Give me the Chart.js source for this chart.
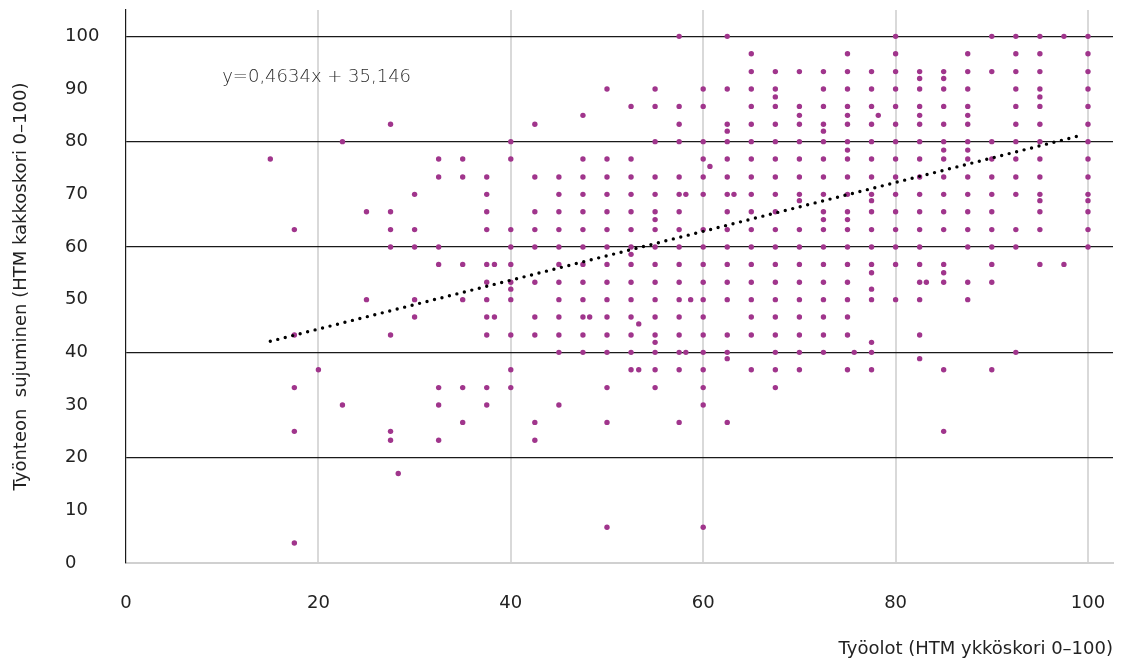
<!DOCTYPE html>
<html lang="fi">

<head>
    <meta charset="UTF-8">
    <title>Työolot ja työnteon sujuminen</title>
    <script src="https://cdn.jsdelivr.net/npm/chart.js@4"></script>
    <style>
        body {
            margin: 0;
            background: #fff;
        }

        .chart-box {
            width: 1128px;
            height: 665px;
        }
    </style>
</head>

<body>
    <div class="chart-box">
        <canvas id="scatterChart"></canvas>
    </div>

    <script>
        // x columns (scores come in steps of 2.5) and the y values found in each column
        const xCols = [15, 17.5, 20, 22.5, 25, 27.5, 30, 32.5, 35, 37.5, 40, 42.5, 45, 47.5, 50, 52.5, 55, 57.5,
            60, 62.5, 65, 67.5, 70, 72.5, 75, 77.5, 80, 82.5, 85, 87.5, 90, 92.5, 95, 97.5, 100];
        const yCols = [
            [76.7],
            [63.3, 43.3, 33.3, 25, 3.8],
            [36.7],
            [80, 30],
            [66.7, 50],
            [83.3, 66.7, 63.3, 60, 43.3, 25, 23.3],
            [70, 63.3, 60, 50, 46.7],
            [76.7, 73.3, 60, 56.7, 33.3, 30, 23.3],
            [76.7, 73.3, 56.7, 50, 33.3, 26.7],
            [73.3, 70, 66.7, 63.3, 56.7, 53.3, 50, 46.7, 43.3, 33.3, 30],
            [80, 76.7, 63.3, 60, 56.7, 53.3, 52, 50, 43.3, 36.7, 33.3],
            [83.3, 73.3, 66.7, 63.3, 60, 53.3, 46.7, 43.3, 26.7, 23.3],
            [73.3, 70, 66.7, 63.3, 60, 56.7, 53.3, 50, 46.7, 43.3, 40, 30],
            [85, 76.7, 73.3, 70, 66.7, 63.3, 60, 56.7, 53.3, 50, 46.7, 43.3, 40],
            [90, 76.7, 73.3, 70, 66.7, 63.3, 60, 56.7, 53.3, 50, 46.7, 43.3, 40, 33.3, 26.7, 6.8],
            [86.7, 76.7, 73.3, 70, 66.7, 63.3, 60, 58.6, 56.7, 53.3, 50, 46.7, 43.3, 40, 36.7],
            [90, 86.7, 80, 73.3, 70, 66.7, 65.2, 63.3, 60, 56.7, 53.3, 50, 46.7, 43.3, 41.9, 40, 36.7, 33.3],
            [100, 86.7, 83.3, 80, 73.3, 70, 66.7, 63.3, 60, 56.7, 53.3, 50, 46.7, 43.3, 40, 36.7, 26.7],
            [90, 86.7, 80, 76.7, 73.3, 70, 63.3, 60, 56.7, 53.3, 50, 46.7, 43.3, 40, 36.7, 33.3, 30, 6.8],
            [100, 90, 83.3, 82, 80, 76.7, 73.3, 70, 66.7, 63.3, 60, 56.7, 53.3, 50, 43.3, 40, 38.8, 26.7],
            [96.7, 93.3, 90, 86.7, 83.3, 80, 76.7, 73.3, 70, 66.7, 63.3, 60, 56.7, 53.3, 50, 46.7, 43.3, 36.7],
            [93.3, 90, 88.5, 86.7, 83.3, 80, 76.7, 73.3, 70, 66.7, 63.3, 60, 56.7, 53.3, 50, 46.7, 43.3, 40, 36.7, 33.3],
            [93.3, 86.7, 85, 83.3, 80, 76.7, 73.3, 70, 68.8, 63.3, 60, 56.7, 53.3, 50, 46.7, 43.3, 40, 36.7],
            [93.3, 90, 86.7, 83.3, 82, 80, 76.7, 73.3, 70, 66.7, 65.2, 63.3, 60, 56.7, 53.3, 50, 46.7, 43.3, 40],
            [96.7, 93.3, 90, 86.7, 85, 83.3, 80, 78.4, 76.7, 73.3, 70, 66.7, 65.2, 63.3, 60, 56.7, 53.3, 50, 46.7, 43.3, 36.7],
            [93.3, 90, 86.7, 83.3, 80, 76.7, 73.3, 70, 68.8, 66.7, 63.3, 60, 56.7, 55.1, 52, 50, 41.9, 40, 36.7],
            [100, 96.7, 93.3, 90, 86.7, 83.3, 80, 76.7, 73.3, 70, 66.7, 63.3, 60, 56.7, 50],
            [93.3, 92, 90, 86.7, 85, 83.3, 80, 76.7, 73.3, 70, 66.7, 63.3, 60, 56.7, 53.3, 50, 43.3, 38.8],
            [93.3, 92, 90, 86.7, 83.3, 80, 78.4, 76.7, 73.3, 70, 66.7, 63.3, 56.7, 55.1, 53.3, 36.7, 25],
            [96.7, 93.3, 90, 86.7, 85, 83.3, 80, 78.4, 76.7, 73.3, 70, 66.7, 63.3, 60, 53.3, 50],
            [100, 93.3, 80, 76.7, 73.3, 70, 66.7, 63.3, 60, 56.7, 53.3, 36.7],
            [100, 96.7, 93.3, 90, 86.7, 83.3, 80, 76.7, 73.3, 70, 63.3, 60, 40],
            [100, 96.7, 93.3, 90, 88.5, 86.7, 83.3, 80, 76.7, 73.3, 70, 68.8, 66.7, 63.3, 56.7],
            [100, 56.7],
            [100, 96.7, 93.3, 90, 86.7, 83.3, 80, 76.7, 73.3, 70, 68.8, 66.7, 63.3, 60]
        ];

        // points that sit between the columns
        const extraX = [28.3, 38.3, 38.3, 48.2, 53.3, 53.3, 58.2, 58.2, 58.7, 60.7, 63.2, 75.7, 78.2, 83.2];
        const extraY = [17, 56.7, 46.7, 46.7, 45.4, 36.7, 70, 40, 50, 75.3, 70, 40, 85, 53.3];

        // linear trend, y=0,4634x + 35,146
        const trendX = [15, 99.5];
        const trendY = [42.1, 81.3];
        const trendLabel = 'y=0,4634x + 35,146';

        const xTitle = 'Työolot (HTM ykköskori 0–100)';
        const yTitle = 'Työnteon  sujuminen (HTM kakkoskori 0–100)';

        const points = [];
        xCols.forEach((x, i) => yCols[i].forEach(y => points.push({ x: x, y: y })));
        extraX.forEach((x, i) => points.push({ x: x, y: extraY[i] }));

        const trend = trendX.map((x, i) => ({ x: x, y: trendY[i] }));

        const font = { family: "'DejaVu Sans', sans-serif", size: 18 };
        const textColor = '#222';

        // equation text inside the plot
        const equationPlugin = {
            id: 'equation',
            afterDatasetsDraw(chart) {
                const ctx = chart.ctx;
                const px = chart.scales.x.getPixelForValue(10);
                const py = chart.scales.y.getPixelForValue(92.2);
                ctx.save();
                ctx.font = "300 18px 'DejaVu Sans', sans-serif";
                ctx.fillStyle = '#2a2a2a';
                ctx.textAlign = 'left';
                ctx.textBaseline = 'middle';
                ctx.fillText(trendLabel, px, py);
                ctx.restore();
            }
        };

        const ctx1 = document.getElementById('scatterChart').getContext('2d');
        const scatterChart = new Chart(ctx1, {
            type: 'scatter',
            data: {
                datasets: [{
                    type: 'line',
                    label: 'Trend',
                    data: trend,
                    borderColor: '#000',
                    borderWidth: 3.4,
                    borderDash: [0, 7.7],
                    borderCapStyle: 'round',
                    pointRadius: 0,
                    fill: false
                }, {
                    label: 'Vastaajat',
                    data: points,
                    backgroundColor: '#a0358c',
                    pointRadius: 2.7,
                    pointBorderWidth: 0
                }]
            },
            options: {
                responsive: true,
                maintainAspectRatio: false,
                animation: false,
                layout: {
                    padding: { left: 65, top: 10, right: 15, bottom: 0 }
                },
                plugins: {
                    legend: { display: false },
                    tooltip: { enabled: false }
                },
                scales: {
                    x: {
                        type: 'linear',
                        min: 0,
                        max: 102.6,
                        afterFit: (scale) => {
                            scale.height = 102;
                            scale.paddingLeft = 0;
                            scale.paddingRight = 0;
                        },
                        ticks: {
                            stepSize: 20,
                            includeBounds: false,
                            padding: 30,
                            color: textColor,
                            font: font,
                            maxRotation: 0
                        },
                        grid: {
                            drawTicks: false,
                            lineWidth: 2,
                            color: (c) => (c.tick && c.tick.value > 0) ? '#d9d9d9' : 'rgba(0,0,0,0)'
                        },
                        border: { color: '#d0d0d0', width: 2 },
                        title: {
                            display: true,
                            text: xTitle,
                            align: 'end',
                            color: textColor,
                            font: font,
                            padding: { top: 0, bottom: 5 }
                        }
                    },
                    y: {
                        min: 0,
                        max: 105,
                        afterFit: (scale) => {
                            scale.width = 61;
                            scale.paddingTop = 0;
                            scale.paddingBottom = 0;
                        },
                        ticks: {
                            stepSize: 10,
                            includeBounds: false,
                            crossAlign: 'far',
                            color: textColor,
                            font: font
                        },
                        grid: {
                            drawTicks: false,
                            lineWidth: 1.2,
                            color: (c) => (c.tick && c.tick.value > 0 && c.tick.value % 20 === 0) ? '#1a1a1a' : 'rgba(0,0,0,0)'
                        },
                        border: { color: '#1a1a1a', width: 1.2 },
                        title: {
                            display: true,
                            text: yTitle,
                            color: textColor,
                            font: font,
                            padding: { top: -54, bottom: 0 }
                        }
                    }
                }
            },
            plugins: [equationPlugin]
        });
    </script>
</body>

</html>
